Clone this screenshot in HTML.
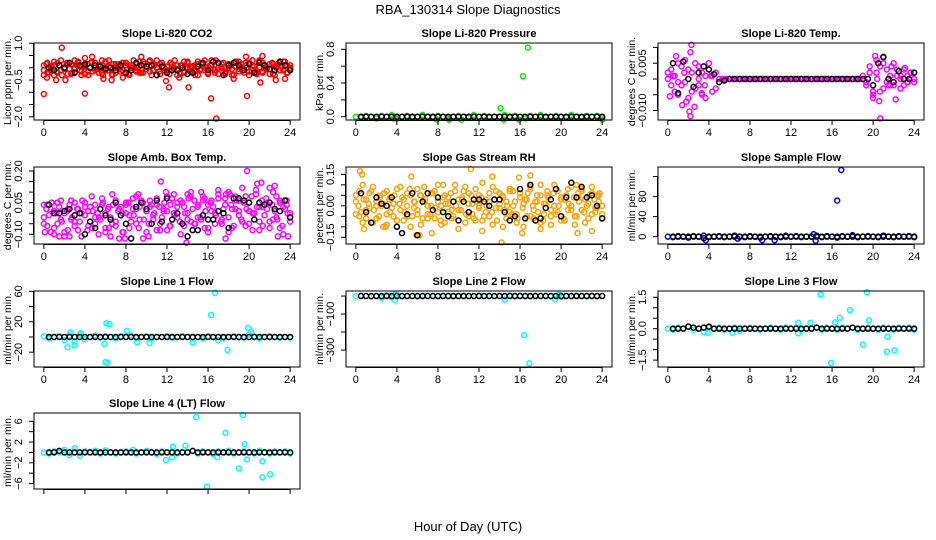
<!DOCTYPE html>
<html><head><meta charset="utf-8"><style>
html,body{margin:0;padding:0;background:#fff;}
svg{display:block;font-family:"Liberation Sans",Arial,sans-serif;}
</style></head><body>
<svg id="chart" width="936" height="540" viewBox="0 0 936 540" xmlns="http://www.w3.org/2000/svg">
<rect width="936" height="540" fill="#fff"/>
<text x="468" y="14" font-size="13" text-anchor="middle">RBA_130314  Slope Diagnostics</text>
<text x="468" y="531" font-size="13" text-anchor="middle">Hour of Day (UTC)</text>
<g id="panels"></g>
</svg>
<script>
const hourTicks=[0,4,8,12,16,20,24];
// Li-820 CO2
const co2Red=[0.1,-0.2,0.05,-0.3,0.2,-0.1,0.0,-0.25,0.15,-0.05,0.25,-0.3,0.1,-0.15,0.2,0.0,-0.2,0.3,-0.1,0.05,-0.3,0.15,-0.05,0.2,-0.25,0.1,0.0,-0.15,0.25,-0.2,0.05,0.3,-0.1,-0.3,0.15,0.0,-0.2,0.2,-0.05,0.1,-0.25,0.25,0.0,-0.15,0.1,-0.3,0.2,-0.1,0.05,0.3,-0.2,0.0,0.15,-0.25,0.1,-0.05,0.25,-0.15,0.0,0.2,-0.3,0.1,-0.1,0.25,-0.2,0.05,0.15,-0.25,0.0,0.2,-0.1,0.1,-0.05];
const co2Red2=[-0.3,0.2,-0.1,0.1,-0.2,0.3,-0.05,0.15,-0.25,0.0,0.2,-0.15,0.05,-0.3,0.25,-0.1,0.1,-0.2,0.0,0.3,-0.25,0.05,0.15,-0.1,0.2,-0.3,0.1,0.0,-0.2,0.25,-0.05,-0.15,0.15,0.3,-0.25,0.05,-0.1,0.2,0.0,-0.3,0.1,-0.2,0.25,0.05,-0.15,0.15,-0.05,0.3,-0.25,0.1,-0.1,0.2,0.0,-0.2,0.15,-0.3,0.05,0.25,-0.1,0.1,-0.15,0.3,-0.2,0.0,0.2,-0.05,-0.25,0.15,0.05,-0.1,0.25,-0.2,0.1];
const co2Red3=[-0.1,0.15,-0.2,0.05,0.25,-0.15,0.1,-0.3,0.0,0.2,-0.05,-0.2,0.3,0.1,-0.1,0.05,-0.25,0.15,0.0,-0.15,0.2,-0.05,0.1,-0.3,0.25,-0.1,0.0,0.15,-0.2,0.05,-0.15,0.2,0.1,-0.25,0.0,0.3,-0.1,0.05,-0.2,0.15,-0.05,0.25,-0.3,0.1,0.0,-0.15,0.2,-0.1,0.05,-0.25,0.15,0.3,-0.05,-0.2,0.1,0.0,0.2,-0.15,0.05,-0.3,0.25,-0.1,0.15,0.0,-0.2,0.1,-0.05,0.3,-0.25,0.05,0.2,-0.15,0.0,0.1,-0.3,0.25,-0.05,0.15,-0.2,0.0,0.2,-0.1,0.05,-0.25,0.3,-0.15,0.1,0.0,-0.05,0.2,-0.3,0.15,-0.1,0.05,0.25,-0.2,0.0];
const co2Out=[[1.75,0.82],[0,-1.07],[4.0,-1.05],[16.3,-1.25],[16.8,-2.07],[19.8,-1.15],[14.1,-0.8],[12.2,-0.8],[11.9,-0.54],[21.3,0.48],[4.7,0.45],[4.0,0.4],[9.5,0.45],[19.7,0.45],[7.7,-0.4],[2.1,-0.5],[21.1,-0.6],[0.3,-0.4],[1.2,-0.5],[5.8,-0.45],[13.2,-0.4],[18.5,-0.45],[22.6,-0.5],[23.5,-0.45],[6.6,-0.5]];
const co2Black=[0.0,-0.1,0.1,0.0,0.2,-0.2,0.1,0.15,0.0,0.1,0.05,-0.05,0.0,-0.1,0.1,-0.2,-0.1,0.2,0.1,0.05,0.1,-0.3,0.05,-0.2,-0.1,-0.1,0.0,-0.25,-0.2,0.05,0.2,-0.1,0.25,0.2,-0.3,0.1,0.2,0.1,-0.1,0.15,-0.2,0.2,0.1,-0.05,-0.1,0.25,0.1,-0.1];
// Li-820 Pressure
const presGreen=[0.0,-0.01,0.01,0.0,-0.02,0.01,0.0,0.02,-0.01,0.0,0.01,-0.01,0.0,0.02,0.0,-0.01,0.01,0.0,-0.02,0.0,0.01,0.0,-0.01,0.02,0.0,0.01,-0.01,0.0,0.0,0.02,-0.01,0.01,0.0,-0.02,0.01,0.0,0.02,-0.01,0.0,0.01,0.0,-0.01,0.02,0.0,-0.01,0.01,0.0,0.01,-0.01];
const presOut=[[16.76,0.82],[16.3,0.48],[14.1,0.1],[7.9,-0.035],[9.1,-0.035],[10.3,-0.035],[14.4,-0.035],[15.9,-0.035],[24,-0.035],[3.7,-0.02],[3.9,-0.02]];
const presBlack=[0,0,0,0,0,0,0,0,0,0,0,0,0,0,0,0,0,0,0,0,0,0,0,0,0,0,0,0,0,0,0,0,0,0,0,0,0,0,0,0,0,0,0,0,0,0,0,0];
// Li-820 Temp
const tempPinkA=[0.0,0.003,-0.004,0.005,-0.002,0.006,-0.006,0.002,-0.003,0.004,-0.005,0.001,0.005,-0.004,0.002,-0.001,0.0,0.0,0.0,0.0,0.0,0.0,0.0,0.0,0.0,0.0,0.0,0.0,0.0,0.0,0.0,0.0,0.0,0.0,0.0,0.0,0.0,0.0,0.0,0.0,0.0,0.0,0.0,0.0,0.0,0.0,0.0,0.0,0.0,0.0,0.0,0.0,0.0,0.0,0.0,0.0,0.0,0.0,-0.001,0.002,-0.004,0.006,0.004,-0.003,0.003,-0.002,0.005,0.001,-0.003,0.003,-0.001,0.002,0.0];
const tempPinkB=[0.002,-0.002,0.001,-0.005,0.004,-0.001,0.003,-0.004,0.005,-0.002,0.002,-0.006,0.003,0.001,-0.003,0.0,0.0,0.0,0.0,0.0,0.0,0.0,0.0,0.0,0.0,0.0,0.0,0.0,0.0,0.0,0.0,0.0,0.0,0.0,0.0,0.0,0.0,0.0,0.0,0.0,0.0,0.0,0.0,0.0,0.0,0.0,0.0,0.0,0.0,0.0,0.0,0.0,0.0,0.0,0.0,0.0,0.0,0.001,-0.002,0.004,-0.005,0.002,-0.004,0.005,-0.001,0.001,-0.002,0.003,0.0,-0.002,0.001,0.002,-0.001];
const tempOut=[[2.3,0.0108],[2.2,0.0085],[0.8,0.0072],[2.2,-0.0118],[2.1,-0.0103],[0.2,-0.0055],[1.4,-0.0083],[1.8,-0.0072],[2.6,-0.0088],[3.3,-0.0045],[20.7,-0.0125],[20.6,-0.007],[21.0,0.0068],[20.2,0.0073],[22.2,-0.0065],[23.1,0.0035],[20.0,-0.006],[21.8,0.004],[0.5,0.001],[1.0,-0.001],[1.6,0.002],[3.0,0.0],[3.6,-0.002],[4.2,0.001],[20.4,0.0],[21.5,-0.002],[22.7,0.001],[23.4,-0.001]];
const tempBlack=[0.005,-0.0045,0.0055,0.0,-0.0025,0.002,0.004,0.003,0.0015,-0.001,-0.0005,0,0,0,0,0,0,0,0,0,0,0,0,0,0,0,0,0,0,0,0,0,0,0,0,0,0,0,0,-0.002,0.005,0.007,0.0,-0.001,0.0025,0.0,0.0,0.002];
// Amb. Box Temp
const ambPinkA=[-0.02,0.04,-0.09,0.01,-0.05,0.06,-0.11,0.02,-0.03,0.05,-0.08,0.0,0.03,-0.06,0.08,-0.02,-0.1,0.04,0.0,-0.07,0.09,-0.04,0.02,-0.09,0.05,-0.01,0.07,-0.05,0.03,-0.12,0.01,0.06,-0.03,0.04,-0.08,0.02,0.08,-0.06,0.0,0.05,-0.1,0.03,0.09,-0.04,0.06,-0.02,0.1,-0.07,0.04,0.01,-0.05,0.11,-0.03,0.07,-0.09,0.02,0.08,-0.01,0.12,-0.06,0.05,0.0,0.09,-0.08,0.03,0.07,-0.04,0.1,-0.02,0.06,-0.1,0.04,0.0];
const ambPinkB=[0.04,-0.06,0.02,-0.1,0.05,-0.03,0.0,-0.08,0.06,-0.04,0.02,-0.11,0.05,0.01,-0.07,0.04,-0.02,0.07,-0.09,0.03,-0.05,0.06,-0.12,0.0,0.04,-0.07,0.02,0.08,-0.03,0.05,-0.09,0.03,-0.01,0.07,-0.05,0.01,-0.08,0.04,0.09,-0.02,0.06,-0.06,0.0,0.1,-0.05,0.03,-0.03,0.07,-0.09,0.06,0.0,0.09,-0.05,0.04,0.1,-0.07,0.02,0.06,-0.04,0.08,0.01,-0.08,0.11,0.03,-0.06,0.05,0.12,-0.03,0.08,-0.07,0.03,0.06,-0.04];
const ambPinkC=[-0.05,0.02,-0.01,0.05,-0.07,0.0,0.03,-0.04,-0.09,0.01,0.04,-0.02,-0.06,0.02,-0.04,0.06,-0.01,-0.08,0.03,0.01,-0.05,0.0,-0.03,0.05,-0.07,0.02,-0.02,0.04,-0.06,0.01,0.03,-0.09,0.0,0.05,-0.04,-0.01,0.02,-0.07,0.06,-0.03,0.01,-0.05,0.04,0.0,-0.08,0.03,-0.02,0.05,0.01,-0.06,0.07,-0.01,0.03,-0.04,0.05,0.0,-0.03,0.08,0.02,-0.05,0.04,-0.02,0.06,0.01,-0.07,0.05,0.03,-0.01,0.07,-0.04,0.02,0.09,-0.02,0.04,-0.06,0.06,0.01,-0.03,0.05,0.02,-0.05,0.08,0.0,0.03,-0.04,0.06,-0.01,0.02,-0.07,0.04,0.01,-0.03,0.05,-0.06,0.02,0.0,-0.02];
const ambOut=[[19.8,0.2],[11.4,0.15],[20.8,0.14],[21.2,0.145],[22.5,0.13],[2.5,-0.11],[1.5,-0.11],[6.5,-0.11],[7.9,-0.12],[13.9,-0.14],[10.2,-0.11],[17.7,-0.12],[22.8,-0.11],[23.8,-0.11],[18.1,0.09],[9.2,0.09],[11.9,0.1],[0.1,-0.09],[15.5,0.08],[14.1,0.07]];
const ambBlack=[0.04,0.0,0.0,0.01,0.02,-0.01,0.0,-0.1,-0.04,-0.07,0.02,-0.01,-0.03,0.05,-0.01,-0.05,-0.12,0.03,0.05,0.02,-0.05,0.06,-0.04,0.07,-0.03,0.0,-0.05,-0.11,-0.08,-0.08,-0.01,-0.03,-0.03,0.01,0.0,-0.07,0.07,0.07,0.06,0.05,-0.03,0.05,0.04,0.05,0.02,0.01,0.06,-0.02];
// Gas Stream RH
const rhOrA=[0.02,-0.05,0.1,-0.02,0.06,-0.08,0.0,0.04,-0.1,0.07,-0.03,0.01,-0.07,0.09,0.03,-0.05,0.05,-0.01,0.08,-0.09,0.02,-0.04,0.06,-0.06,0.1,0.0,-0.08,0.04,-0.02,0.07,-0.11,0.03,0.09,-0.05,0.01,-0.07,0.05,0.11,-0.03,0.02,-0.09,0.07,-0.01,0.04,-0.06,0.08,0.0,-0.04,0.06,-0.1,0.03,0.09,-0.02,0.05,-0.08,0.01,0.07,-0.05,0.1,-0.03,0.04,-0.07,0.08,0.0,-0.09,0.06,-0.02,0.03,-0.06,0.09,-0.01,0.05,-0.04];
const rhOrB=[-0.04,0.07,-0.08,0.03,-0.01,0.09,-0.06,0.05,0.01,-0.09,0.04,-0.05,0.08,-0.02,-0.07,0.06,-0.1,0.02,-0.04,0.05,0.09,-0.06,0.0,0.07,-0.03,-0.09,0.05,0.01,-0.06,0.1,-0.02,0.04,-0.08,0.06,-0.04,0.08,0.0,-0.07,0.03,-0.05,0.09,-0.01,0.06,-0.1,0.02,-0.03,0.07,-0.08,0.04,0.01,-0.05,0.08,-0.06,0.02,0.1,-0.04,0.05,-0.09,0.0,0.07,-0.07,0.03,-0.02,0.09,-0.05,0.04,0.08,-0.08,0.01,0.06,-0.03,0.02,-0.06];
const rhOrC=[0.05,0.0,-0.03,0.03,-0.06,0.01,0.07,-0.02,0.02,-0.05,0.0,0.06,-0.04,0.03,-0.01,0.05,-0.07,0.01,0.04,-0.03,0.0,0.08,-0.05,0.02,-0.02,0.05,-0.06,0.03,0.0,-0.04,0.06,-0.01,0.02,-0.07,0.04,0.01,-0.03,0.06,-0.05,0.0,0.03,-0.02,0.07,-0.04,0.01,0.05,-0.06,0.02,-0.01,0.04,-0.05,0.0,0.06,-0.03,0.03,-0.07,0.01,0.05,-0.02,0.0,0.07,-0.04,0.02,-0.06,0.04,-0.01,0.03,0.06,-0.05,0.0,0.02,-0.03,0.05,-0.07,0.01,0.04,-0.02,0.06,-0.04,0.0,0.03,-0.06,0.05,0.01,-0.02,0.04,-0.05,0.02,0.07,-0.03,0.0,0.05,-0.04,0.03,-0.01,0.06,0.0];
const rhOut=[[0.4,0.165],[0.6,0.15],[11.2,0.175],[5.4,0.14],[13.3,0.14],[15.9,0.135],[17.0,0.145],[21.5,0.1],[8.5,0.1],[14.2,-0.175],[7.4,-0.13],[6.2,-0.14],[5.9,-0.14],[12.3,-0.12],[16.2,-0.13],[21.6,-0.13],[23.0,-0.12],[0.8,-0.11],[2.9,-0.1],[18.0,-0.11],[23.5,0.05]];
const rhBlack=[0.06,-0.03,-0.08,0.04,0.01,0.0,0.04,-0.1,-0.13,-0.04,0.06,-0.14,0.02,0.06,-0.02,0.04,-0.03,-0.05,0.02,-0.07,0.02,-0.03,0.03,0.03,0.02,0.0,0.03,0.03,-0.03,-0.07,-0.05,0.08,-0.06,0.1,-0.07,-0.06,-0.01,0.03,0.08,-0.05,0.04,0.11,0.04,0.09,0.04,0.05,0.0,-0.06];
// Sample Flow
const flowBlue=[0,-1,1,0,-2,1,0,2,-1,0,1,-1,0,2,0,-1,1,0,-2,0,1,0,-1,2,0,1,-1,0,0,2,-1,1,0,-2,1,0,2,-1,0,1,0,-1,2,0,-1,1,0,1,-1];
const flowOut=[[16.5,72],[16.9,133],[14.2,5],[3.7,-7],[9.2,-7],[10.4,-7],[14.4,-8],[18.0,3],[6.8,-4]];
const flowBlack=[0,0,0,0,0,0,-3,0,0,0,0,0,0,0,0,0,0,0,0,0,0,0,0,0,0,0,0,0,0,0,0,0,0,0,0,0,0,0,0,0,0,0,0,0,0,0,0,0];
// Line 1 Flow
const l1Cyan=[1,-2,0,1,-4,2,-6,3,-3,0,2,-1,1,0,-2,1,0,2,-1,0,1,-2,0,0,1,-1,0,1,0,-1,0,-2,1,0,-4,-1,0,1,0,-1,4,1,-2,0,1,0,-1,0,-1];
const l1Out=[[16.7,58],[16.3,29],[6.4,17],[6.1,18],[5.9,-9],[6.0,-33],[6.2,-34],[17.9,-17],[2.3,-13.5],[19.9,12],[10.3,-8],[14.5,-7],[8.1,8],[3.0,-11],[2.6,6],[3.6,5],[9.1,-7],[20.2,7]];
const l1Black=[0,0,0,0,0,0,0,0,0,0,0,0,0,0,0,0,0,0,0,0,0,0,0,0,0,0,0,0,0,0,0,0,0,0,0,0,0,0,0,0,0,0,0,0,0,0,0,0];
// Line 2 Flow
const l2Cyan=[-1,2,0,-3,1,-2,4,-8,6,-1,0,1,-1,0,2,0,-1,1,0,-2,0,1,0,-1,2,0,1,-1,0,0,3,-1,1,0,-2,1,0,2,-1,0,-5,1,-1,2,0,-1,1,0,1];
const l2Out=[[16.4,-217],[16.9,-374],[14.5,-20],[19.4,-18],[3.8,-22],[3.9,12],[2.5,-10],[19.8,8]];
const l2Black=[0,0,0,0,0,0,0,0,0,0,0,0,0,0,0,0,0,0,0,0,0,0,0,0,0,0,0,0,0,0,0,0,0,0,0,0,0,0,0,0,0,0,0,0,0,0,0,0];
// Line 3 Flow
const l3Cyan=[0.0,-0.05,0.05,0.0,0.1,-0.05,0.0,-0.15,0.05,0.0,0.05,-0.05,0.0,0.05,-0.1,0.0,0.05,0.0,-0.05,0.0,0.05,0.0,-0.05,0.05,0.0,0.05,-0.05,0.0,0.0,0.05,-0.05,0.05,0.0,-0.05,0.05,0.0,0.05,-0.05,0.0,0.05,0.0,-0.05,0.05,0.0,-0.05,0.05,0.0,0.05,-0.05];
const l3Out=[[14.9,1.63],[19.4,1.74],[17.75,0.89],[16.75,0.52],[19.6,0.4],[19.0,-0.75],[21.35,-1.1],[22.1,-1.03],[21.4,-0.38],[15.9,-1.64],[12.7,0.28],[12.7,-0.22],[13.9,0.28],[3.9,-0.2],[6.3,-0.2],[16.3,0.3]];
const l3Black=[0.0,0.0,0.0,0.1,0.05,0.0,0.05,0.1,0.0,0.0,0.0,0.0,0.0,0.0,0.0,0.0,0.0,0.0,0.0,0.0,0.0,0.0,0.0,0.0,0.0,0.0,0.0,0.0,0.05,0.0,0.0,0.0,0.0,0.0,0.0,0.05,0.0,0.0,0.0,0.0,0.0,0.0,0.0,0.0,0.0,0.0,0.0,0.0];
// Line 4 (LT) Flow
const l4Cyan=[0.0,-0.2,0.2,0.0,0.5,-0.5,0.8,-0.6,0.2,0.0,0.3,-0.2,0.4,0.0,-0.2,0.0,0.2,0.0,-0.2,0.0,0.3,0.0,-0.3,0.2,0.0,0.2,-0.2,0.0,0.0,0.3,-0.2,0.2,0.0,-0.3,0.2,0.0,0.3,-0.2,0.0,0.2,0.0,-0.2,0.3,0.0,-0.2,0.2,0.0,0.2,-0.2];
const l4Out=[[14.85,6.8],[19.4,7.2],[17.7,3.76],[19.55,1.6],[13.8,1.3],[12.6,1.1],[11.9,-1.45],[12.5,-0.95],[19.0,-3.1],[19.8,-1.35],[21.3,-1.7],[21.3,-4.8],[22.05,-4.2],[15.9,-6.6],[16.9,-0.9],[8.7,0.5]];
const l4Black=[0.0,0.0,0.3,0.0,0.0,0.0,0.0,0.0,0.0,0.0,0.0,0.0,0.0,0.0,0.0,0.0,0.0,0.0,0.0,0.0,0.0,0.0,0.0,0.0,0.0,0.0,0.0,0.0,0.3,0.0,0.0,0.0,0.0,0.0,0.0,0.0,0.0,0.0,0.0,0.0,0.0,0.0,0.0,0.0,0.0,0.0,0.0,0.0];

const NS='http://www.w3.org/2000/svg';
const root=document.getElementById('panels');
const cols=[[34,300],[346,612],[658,924]];
const rows=[[43,120],[167,244],[291,367],[413,489]];
function mk(tag,attrs,parent){const e=document.createElementNS(NS,tag);for(const k in attrs)e.setAttribute(k,attrs[k]);parent.appendChild(e);return e;}
const panels=[
 {id:'co2',title:'Slope Li-820 CO2',ylab:'Licor ppm per min.',c:0,r:0,ylim:[-2.13,1.01],ticks:[-2,-1.5,-1,-0.5,0,0.5,1],labels:[[1,'1.0'],[-0.5,'\u22120.5'],[-2,'\u22122.0']],color:'#ff0000',main:[co2Red,co2Red2,co2Red3],out:co2Out,black:co2Black},
 {id:'pressure',title:'Slope Li-820 Pressure',ylab:'kPa per min.',c:1,r:0,ylim:[-0.039,0.875],ticks:[0,0.2,0.4,0.6,0.8],labels:[[0,'0.0'],[0.4,'0.4'],[0.8,'0.8']],color:'#00ee00',main:[presGreen],out:presOut,black:presBlack},
 {id:'li820-temp',title:'Slope Li-820 Temp.',ylab:'degrees C  per min.',c:2,r:0,ylim:[-0.0130,0.0114],ticks:[-0.01,-0.005,0,0.005,0.01],labels:[[0.005,'0.005'],[-0.01,'\u22120.010']],color:'#ff00ff',main:[tempPinkA,tempPinkB],out:tempOut,black:tempBlack},
 {id:'amb-temp',title:'Slope Amb. Box Temp.',ylab:'degrees C per min.',c:0,r:1,ylim:[-0.146,0.219],ticks:[-0.1,-0.05,0,0.05,0.1,0.15,0.2],labels:[[0.2,'0.20'],[0.05,'0.05'],[-0.1,'\u22120.10']],color:'#ff00ff',main:[ambPinkA,ambPinkB,ambPinkC],out:ambOut,black:ambBlack},
 {id:'rh',title:'Slope Gas Stream RH',ylab:'percent per min.',c:1,r:1,ylim:[-0.182,0.185],ticks:[-0.15,-0.1,-0.05,0,0.05,0.1,0.15],labels:[[0.15,'0.15'],[0,'0.00'],[-0.15,'\u22120.15']],color:'#ffa000',main:[rhOrA,rhOrB,rhOrC],out:rhOut,black:rhBlack},
 {id:'sample-flow',title:'Slope Sample Flow',ylab:'ml/min per min.',c:2,r:1,ylim:[-14.6,139],ticks:[0,40,80,120],labels:[[0,'0'],[40,'40'],[80,'80']],color:'#0000ff',main:[flowBlue],out:flowOut,black:flowBlack},
 {id:'line1',title:'Slope Line 1 Flow',ylab:'ml/min per min.',c:0,r:2,ylim:[-39.5,60.5],ticks:[-20,0,20,40,60],labels:[[60,'60'],[20,'20'],[-20,'\u221220']],color:'#00ffff',main:[l1Cyan],out:l1Out,black:l1Black},
 {id:'line2',title:'Slope Line 2 Flow',ylab:'ml/min per min.',c:1,r:2,ylim:[-394,28],ticks:[0,-100,-200,-300],labels:[[-100,'\u2212100'],[-300,'\u2212300']],color:'#00ffff',main:[l2Cyan],out:l2Out,black:l2Black},
 {id:'line3',title:'Slope Line 3 Flow',ylab:'ml/min per min.',c:2,r:2,ylim:[-1.83,1.8],ticks:[-1.5,-1,-0.5,0,0.5,1,1.5],labels:[[1.5,'1.5'],[0,'0.0'],[-1.5,'\u22121.5']],color:'#00ffff',main:[l3Cyan],out:l3Out,black:l3Black},
 {id:'line4',title:'Slope Line 4 (LT) Flow',ylab:'ml/min per min.',c:0,r:3,ylim:[-7.05,7.6],ticks:[-6,-4,-2,0,2,4,6],labels:[[6,'6'],[2,'2'],[-2,'\u22122'],[-6,'\u22126']],color:'#00ffff',main:[l4Cyan],out:l4Out,black:l4Black}
];
panels.forEach(p=>{
  const [x0,x1]=cols[p.c],[y0,y1]=rows[p.r];
  const xs=h=>x0+(h+0.96)/25.92*(x1-x0);
  const ys=v=>y1-(v-p.ylim[0])/(p.ylim[1]-p.ylim[0])*(y1-y0);
  const g=mk('g',{},root);
  
  
  const cx=(x0+x1)/2;
  const t=mk('text',{x:cx,y:y0-6,'font-size':11,'font-weight':'bold','text-anchor':'middle'},g);t.textContent=p.title;
  
  
  const yl=mk('text',{transform:`translate(${x0-23},${(y0+y1)/2}) rotate(-90)`,'font-size':10.5,'text-anchor':'middle'},g);yl.textContent=p.ylab;
  
  
  const pts=mk('g',{fill:'none','stroke-width':1.5},g);
  
  
  p.main.forEach(arr=>{
    arr.forEach((v,i)=>{const h=i*24/(arr.length-1);
      const c=mk('circle',{cx:xs(h),cy:ys(v),r:2.5,stroke:p.color},pts);
      
      });
  });
  p.out.forEach(([h,v])=>{
    const c=mk('circle',{cx:xs(h),cy:ys(v),r:2.5,stroke:p.color},pts);
    
    });
  p.black.forEach((v,i)=>{const h=0.5+i*23.5/(p.black.length-1);
    const c=mk('circle',{cx:xs(h),cy:ys(v),r:2.5,stroke:'#000'},pts);
    
    });
  const box=mk('rect',{x:x0,y:y0,width:x1-x0,height:y1-y0,fill:'none',stroke:'#000','stroke-width':1},g);
  
  
  const ax=mk('g',{stroke:'#000','stroke-width':1},g);
  
  
  mk('line',{x1:xs(0),x2:xs(24),y1:y1+0.5,y2:y1+0.5},ax);
  hourTicks.forEach(h=>{mk('line',{x1:xs(h),x2:xs(h),y1:y1,y2:y1+5},ax);
    if(p.r<3){const tl=mk('text',{x:xs(h),y:y1+16,'font-size':11,'text-anchor':'middle',stroke:'none',fill:'#000'},g);tl.textContent=h;
    
    }});
  const tmin=Math.min(...p.ticks),tmax=Math.max(...p.ticks);
  mk('line',{x1:x0-0.5,x2:x0-0.5,y1:ys(tmin),y2:ys(tmax)},ax);
  p.ticks.forEach(v=>mk('line',{x1:x0-5,x2:x0,y1:ys(v),y2:ys(v)},ax));
  p.labels.forEach(([v,s])=>{const tl=mk('text',{transform:`translate(${x0-12},${ys(v)}) rotate(-90)`,'font-size':11,'text-anchor':'middle'},g);tl.textContent=s;
    
    });
});
</script>
</body></html>
